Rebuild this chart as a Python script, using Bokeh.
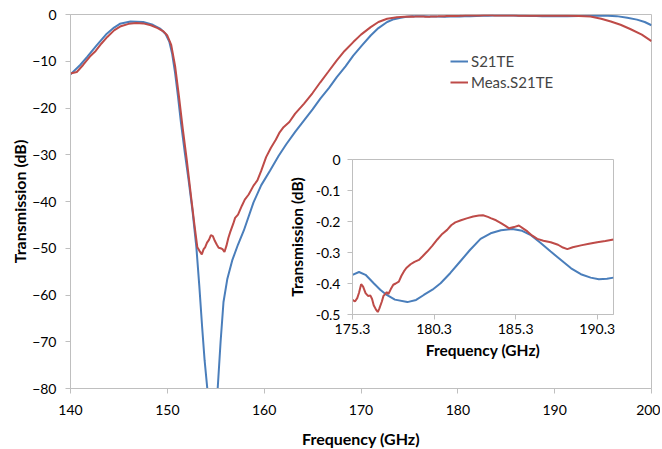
from bokeh.plotting import figure
from bokeh.models import Range1d, FixedTicker, Legend, LegendItem
from bokeh.layouts import column
from bokeh.embed import file_html
from bokeh.resources import INLINE

# ---------------- data ----------------
# simulated S21TE, main chart (outside the inset band)
sim_left_f = [140, 141.0, 141.7, 142.7, 143.75, 144.5, 145.1, 146.2, 147.5, 148.5,
              149.3, 149.8, 150.2, 150.5, 150.8, 151.1, 151.4, 151.8, 152.2, 152.6,
              153.0, 153.3, 153.6, 153.85, 154.15, 154.4, 154.65, 154.9, 155.2, 155.5,
              155.8, 156.2, 156.7, 157.3, 157.9, 158.9, 159.7, 160.6, 161.5, 162.3,
              163.2, 164.1, 165.0, 165.8, 166.7, 167.5, 168.4, 169.2, 170.1, 171.0,
              171.8, 172.7, 173.4, 174.1, 174.7]
sim_left_db = [-12.8, -10.8, -9.1, -6.6, -4.1, -2.8, -2.0, -1.5, -1.6, -2.2,
               -3.1, -4.1, -5.8, -8.4, -12.5, -17.5, -23.0, -29.5, -35.5, -42.0,
               -49.8, -58.0, -67.0, -74.0, -80.5, -88.0, -92.0, -88.0, -80.0, -70.0,
               -61.5, -56.5, -52.6, -49.2, -46.2, -40.2, -36.5, -33.4, -30.2, -27.7,
               -25.1, -22.7, -20.3, -18.0, -15.7, -13.4, -11.1, -8.8, -6.6, -4.5,
               -2.9, -1.6, -1.0, -0.7, -0.5]
sim_right_f = [192.5, 194.0, 195.5, 196.4, 197.5, 198.5, 199.3, 200.0]
sim_right_db = [-0.33, -0.25, -0.25, -0.35, -0.7, -1.1, -1.6, -2.3]

# measured Meas.S21TE, main chart (outside the inset band)
meas_left_f = [140, 140.65, 141.3, 142.0, 142.6, 143.2, 143.8, 144.5, 145.2, 146.0,
               146.8, 147.5, 148.3, 149.0, 149.6, 150.0, 150.4, 150.8, 151.2, 151.6,
               152.0, 152.5, 152.8, 153.1, 153.3, 153.56, 153.75, 153.9, 154.1, 154.3,
               154.5, 154.7, 154.9, 155.1, 155.3, 155.5, 155.7, 155.9, 156.1, 156.3,
               156.5, 156.8, 157.0, 157.3, 157.7, 158.0, 158.4, 158.9, 159.3, 159.7,
               160.2, 160.7, 161.2, 161.6, 162.0, 162.6, 163.2, 164.1, 165.0, 165.8,
               166.6, 167.5, 168.3, 169.2, 170.0, 171.0, 171.8, 172.7, 173.7, 174.5]
meas_left_db = [-12.6, -12.3, -10.8, -9.0, -7.8, -6.2, -4.8, -3.4, -2.5, -2.0,
                -1.8, -1.9, -2.3, -2.9, -3.6, -4.5, -6.5, -11.0, -17.5, -24.5,
                -31.0, -39.8, -45.0, -49.8, -50.5, -51.3, -50.2, -49.8, -48.8, -48.2,
                -47.2, -47.4, -48.4, -49.2, -49.9, -50.0, -50.2, -50.8, -49.5, -47.8,
                -46.5, -44.8, -43.5, -42.8, -40.9, -39.6, -38.5, -36.6, -35.5, -33.4,
                -30.5, -28.5, -26.8, -25.2, -24.1, -23.0, -21.2, -19.1, -16.8, -14.5,
                -12.3, -9.8, -7.8, -5.9, -4.3, -2.7, -1.6, -0.9, -0.6, -0.5]
meas_right_f = [192.5, 193.7, 194.8, 195.8, 196.8, 197.8, 199.0, 200.0]
meas_right_db = [-0.3, -0.45, -0.9, -1.5, -2.2, -3.1, -4.3, -5.7]

# inset band (175.3 - 191.3 GHz)
inset_sim_f = [175.3, 175.7, 176.1, 176.6, 177.0, 177.4, 177.9, 178.66, 179.2, 179.67,
               180.2, 180.7, 181.3, 181.9, 182.5, 183.15, 183.77, 184.4, 185.1, 185.7,
               186.2, 186.8, 187.45, 188.1, 188.7, 189.3, 189.9, 190.4, 190.9, 191.3]
inset_sim_db = [-0.372, -0.363, -0.372, -0.399, -0.42, -0.437, -0.452, -0.460, -0.453, -0.437,
                -0.42, -0.399, -0.366, -0.329, -0.292, -0.256, -0.238, -0.228, -0.224, -0.23,
                -0.243, -0.268, -0.297, -0.325, -0.351, -0.370, -0.381, -0.386, -0.385, -0.381]
inset_meas_f = [175.3, 175.45, 175.59, 175.7, 175.83, 175.95, 176.1, 176.25, 176.4, 176.5,
                176.6, 176.75, 176.85, 176.95, 177.1, 177.2, 177.3, 177.4, 177.5, 177.65,
                177.8, 177.95, 178.14, 178.3, 178.45, 178.6, 178.86, 179.1, 179.37, 179.6,
                179.88, 180.2, 180.5, 180.8, 181.1, 181.35, 181.6, 181.95, 182.3, 182.7,
                183.05, 183.3, 183.6, 183.77, 184.1, 184.4, 184.7, 184.9, 185.2, 185.5,
                185.75, 186.02, 186.3, 186.63, 187.0, 187.45, 187.9, 188.2, 188.47, 188.8,
                189.3, 189.8, 190.3, 190.8, 191.3]
inset_meas_db = [-0.453, -0.458, -0.447, -0.43, -0.402, -0.41, -0.431, -0.44, -0.439, -0.45,
                 -0.47, -0.485, -0.492, -0.48, -0.458, -0.44, -0.434, -0.428, -0.434, -0.418,
                 -0.404, -0.40, -0.394, -0.375, -0.361, -0.35, -0.338, -0.33, -0.324, -0.312,
                 -0.297, -0.278, -0.258, -0.24, -0.227, -0.212, -0.203, -0.196, -0.19, -0.184,
                 -0.181, -0.18, -0.185, -0.189, -0.196, -0.205, -0.215, -0.222, -0.218, -0.213,
                 -0.222, -0.232, -0.245, -0.256, -0.262, -0.267, -0.275, -0.284, -0.289, -0.283,
                 -0.277, -0.272, -0.267, -0.263, -0.258]

main_x_ticks = [140, 150, 160, 170, 180, 190, 200]
main_y_ticks = [0, -10, -20, -30, -40, -50, -60, -70, -80]
inset_x_ticks = [175.3, 180.3, 185.3, 190.3]
inset_x_labels = ["175.3", "180.3", "185.3", "190.3"]
inset_y_ticks = [0, -0.1, -0.2, -0.3, -0.4, -0.5]
inset_y_labels = ["0", "-0.1", "-0.2", "-0.3", "-0.4", "-0.5"]

BLUE = "#4A7EBB"
RED = "#BE4B48"
GRAY = "#BFBFBF"
FONT = "Lato"

sim_f = sim_left_f + inset_sim_f + sim_right_f
sim_db = sim_left_db + inset_sim_db + sim_right_db
meas_f = meas_left_f + inset_meas_f + meas_right_f
meas_db = meas_left_db + inset_meas_db + meas_right_db


def style_axes(fig, tick_size, label_size, ystand, xstand):
    for ax in (fig.xaxis[0], fig.yaxis[0]):
        ax.axis_line_color = GRAY
        ax.major_tick_line_color = GRAY
        ax.major_tick_in = 0
        ax.major_tick_out = 5
        ax.minor_tick_line_color = None
        ax.major_label_text_font = FONT
        ax.major_label_text_font_size = tick_size
        ax.major_label_text_color = "#000000"
        ax.axis_label_text_font = FONT
        ax.axis_label_text_font_size = label_size
        ax.axis_label_text_font_style = "bold"
        ax.axis_label_text_color = "#000000"
    fig.yaxis[0].major_label_standoff = ystand
    fig.xaxis[0].major_label_standoff = xstand
    fig.xgrid.visible = False
    fig.ygrid.visible = False
    fig.outline_line_color = GRAY


# ---------------- main figure ----------------
p = figure(frame_width=581, frame_height=374, x_range=Range1d(140, 200), y_range=Range1d(-80, 0),
           output_backend="svg", toolbar_location=None,
           min_border_left=67, min_border_right=12, min_border_top=14, min_border_bottom=53,
           x_axis_label="Frequency (GHz)", y_axis_label="Transmission (dB)")
p.xaxis.ticker = FixedTicker(ticks=main_x_ticks)
p.yaxis.ticker = FixedTicker(ticks=main_y_ticks)
style_axes(p, "14px", "16px", 9, 11)
p.xaxis.axis_label_standoff = 11
p.yaxis.axis_label_standoff = 0

r_sim = p.line(sim_f, sim_db, line_color=BLUE, line_width=2)
r_meas = p.line(meas_f, meas_db, line_color=RED, line_width=2)

legend = Legend(items=[LegendItem(label="S21TE", renderers=[r_sim]),
                       LegendItem(label="Meas.S21TE", renderers=[r_meas])],
                location=(380, 296), padding=0, margin=0, spacing=1,
                glyph_width=18, glyph_height=20, label_standoff=3,
                label_text_font=FONT, label_text_font_size="15px",
                border_line_color=None, background_fill_alpha=0)
p.add_layout(legend, "center")

# ---------------- inset figure ----------------
ins = figure(frame_width=261, frame_height=155, x_range=Range1d(175.3, 191.3), y_range=Range1d(-0.5, 0),
             output_backend="svg", toolbar_location=None,
             min_border_left=70, min_border_right=8, min_border_top=8, min_border_bottom=47,
             x_axis_label="Frequency (GHz)", y_axis_label="Transmission (dB)",
             background_fill_alpha=0, border_fill_alpha=0)
ins.xaxis.ticker = FixedTicker(ticks=inset_x_ticks)
ins.yaxis.ticker = FixedTicker(ticks=inset_y_ticks)
ins.xaxis.major_label_overrides = dict(zip(inset_x_ticks, inset_x_labels))
ins.yaxis.major_label_overrides = dict(zip(inset_y_ticks, inset_y_labels))
style_axes(ins, "14px", "15.5px", 7, 4)
ins.xaxis.axis_label_standoff = 4
ins.yaxis.axis_label_standoff = 7

ins.line(inset_sim_f, inset_sim_db, line_color=BLUE, line_width=2)
ins.line(inset_meas_f, inset_meas_db, line_color=RED, line_width=2)

ins.margin = (-299, 0, 0, 282)

layout = column(p, ins, spacing=0)
open("out.html", "w").write(file_html(layout, INLINE))
